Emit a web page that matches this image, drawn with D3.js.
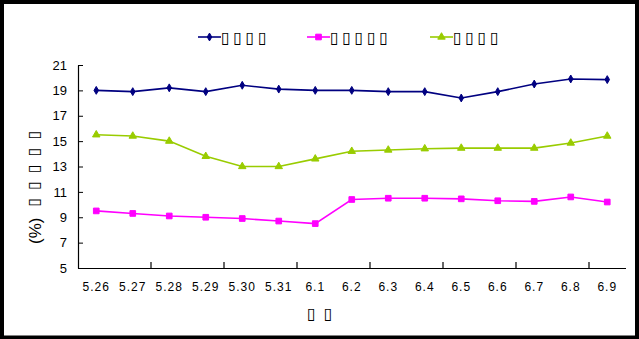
<!DOCTYPE html>
<html>
<head>
<meta charset="utf-8">
<script src="https://cdn.jsdelivr.net/npm/d3@7"></script>
<style>
  body { margin: 0; background: #fff; }
  svg { display: block; }
</style>
</head>
<body>
<script>
// categories (dates) and the three series
var dates = ["5.26", "5.27", "5.28", "5.29", "5.30", "5.31", "6.1", "6.2",
             "6.3", "6.4", "6.5", "6.6", "6.7", "6.8", "6.9"];
var seriesA = [19.0, 18.9, 19.2, 18.9, 19.4, 19.1, 19.0, 19.0, 18.9, 18.9, 18.4, 18.9, 19.5, 19.9, 19.85];
var seriesB = [9.5, 9.3, 9.1, 9.0, 8.9, 8.7, 8.5, 10.4, 10.5, 10.5, 10.45, 10.3, 10.25, 10.6, 10.2];
var seriesC = [15.5, 15.4, 15.0, 13.8, 13.0, 13.0, 13.6, 14.2, 14.3, 14.4, 14.45, 14.45, 14.45, 14.85, 15.4];
var seriesNames = ["▯▯▯▯", "▯▯▯▯▯", "▯▯▯▯"];
var yTicks = [5, 7, 9, 11, 13, 15, 17, 19, 21];
var yTitle = "(%)";
var yTitleBoxes = "▯▯▯▯▯";
var xTitle = "▯▯";

function init() {
    var w = 639;
    var h = 339;
    var left = 78, right = 625.5, top = 65, bottom = 268;

    var svg = d3.select("body")
                .append("svg")
                .attr("width", w)
                .attr("height", h);

    // black frame round the whole picture
    svg.append("rect")
        .attr("x", 2).attr("y", 2)
        .attr("width", w - 4).attr("height", h - 3.5)
        .attr("fill", "none")
        .attr("stroke", "#000")
        .attr("stroke-width", 4);

    var xScale = d3.scaleBand()
                   .domain(dates)
                   .range([left, right]);

    var yScale = d3.scaleLinear()
                   .domain([5, 21])
                   .range([bottom, top]);

    function cx(d, i) { return xScale(dates[i]) + xScale.bandwidth() / 2; }

    // y axis, ticks pointing inward
    var yAxis = d3.axisLeft(yScale)
                  .tickValues(yTicks)
                  .tickSizeInner(-5)
                  .tickSizeOuter(0)
                  .tickPadding(11);
    var gy = svg.append("g")
        .attr("transform", "translate(" + left + ",0)")
        .call(yAxis);
    gy.select(".domain").attr("stroke", "#000").attr("stroke-width", 1.2);
    gy.selectAll("text")
        .attr("font-family", "Liberation Sans, Arial, sans-serif")
        .attr("font-size", "13px")
        .attr("fill", "#000");

    // x axis: labels centred in each band, tick marks every second band
    var xAxis = d3.axisBottom(xScale).tickSize(0).tickPadding(14);
    var gx = svg.append("g")
        .attr("transform", "translate(0," + bottom + ")")
        .call(xAxis);
    gx.select(".domain").attr("stroke", "#000").attr("stroke-width", 1.2);
    gx.selectAll("text")
        .attr("font-family", "Liberation Sans, Arial, sans-serif")
        .attr("font-size", "12px")
        .attr("letter-spacing", "1px")
        .attr("fill", "#000");

    var tickIdx = d3.range(2, dates.length, 2);
    svg.append("g").selectAll("line")
        .data(tickIdx)
        .enter()
        .append("line")
        .attr("x1", function (d) { return left + d * xScale.step(); })
        .attr("x2", function (d) { return left + d * xScale.step(); })
        .attr("y1", bottom)
        .attr("y2", bottom - 6)
        .attr("stroke", "#000")
        .attr("stroke-width", 1.2);

    var line = d3.line()
                 .x(cx)
                 .y(function (d) { return yScale(d); });

    var series = [
        { name: seriesNames[0], values: seriesA, color: "#000080", marker: "diamond" },
        { name: seriesNames[1], values: seriesB, color: "#FF00FF", marker: "square" },
        { name: seriesNames[2], values: seriesC, color: "#99CC00", marker: "triangle" }
    ];

    function markerPath(type) {
        if (type === "square") return d3.symbol(d3.symbolSquare, 32)();
        if (type === "triangle") return d3.symbol(d3.symbolTriangle, 24)();
        return d3.symbol(d3.symbolDiamond, 18)();
    }

    series.forEach(function (s) {
        svg.append("path")
            .datum(s.values)
            .attr("d", line)
            .attr("fill", "none")
            .attr("stroke", s.color)
            .attr("stroke-width", 1.6);

        svg.append("g").selectAll("path")
            .data(s.values)
            .enter()
            .append("path")
            .attr("d", markerPath(s.marker))
            .attr("transform", function (d, i) {
                return "translate(" + cx(d, i) + "," + yScale(d) + ")";
            })
            .attr("fill", s.color)
            .attr("stroke", s.color)
            .attr("stroke-width", 1);
    });

    // legend
    var legendX = [198, 307, 430];
    var lg = svg.append("g");
    series.forEach(function (s, i) {
        var g = lg.append("g").attr("transform", "translate(" + legendX[i] + ",37)");
        g.append("line")
            .attr("x1", 0).attr("x2", 23)
            .attr("y1", 0).attr("y2", 0)
            .attr("stroke", s.color)
            .attr("stroke-width", 1.6);
        g.append("path")
            .attr("d", markerPath(s.marker))
            .attr("transform", "translate(11.5,0)")
            .attr("fill", s.color)
            .attr("stroke", s.color);
        g.append("text")
            .attr("x", 23)
            .attr("y", 6)
            .attr("font-family", "DejaVu Sans, sans-serif")
            .attr("font-size", "16px")
            .attr("letter-spacing", "3.5px")
            .attr("fill", "#000")
            .text(s.name);
    });

    // y axis title, read from bottom to top
    var yt = svg.append("text")
        .attr("transform", "translate(41,233) rotate(-90)")
        .attr("font-family", "Liberation Sans, Arial, sans-serif")
        .attr("fill", "#000");
    yt.append("tspan")
        .attr("font-size", "17px")
        .attr("x", -11)
        .text(yTitle);
    yt.append("tspan")
        .attr("font-family", "DejaVu Sans, sans-serif")
        .attr("font-size", "16px")
        .attr("dx", 11)
        .attr("dy", -2)
        .attr("letter-spacing", "8px")
        .text(yTitleBoxes);

    // x axis title
    svg.append("text")
        .attr("x", 307)
        .attr("y", 319)
        .attr("font-family", "DejaVu Sans, sans-serif")
        .attr("font-size", "16px")
        .attr("letter-spacing", "8px")
        .attr("fill", "#000")
        .text(xTitle);
}

window.onload = init;
</script>
</body>
</html>
